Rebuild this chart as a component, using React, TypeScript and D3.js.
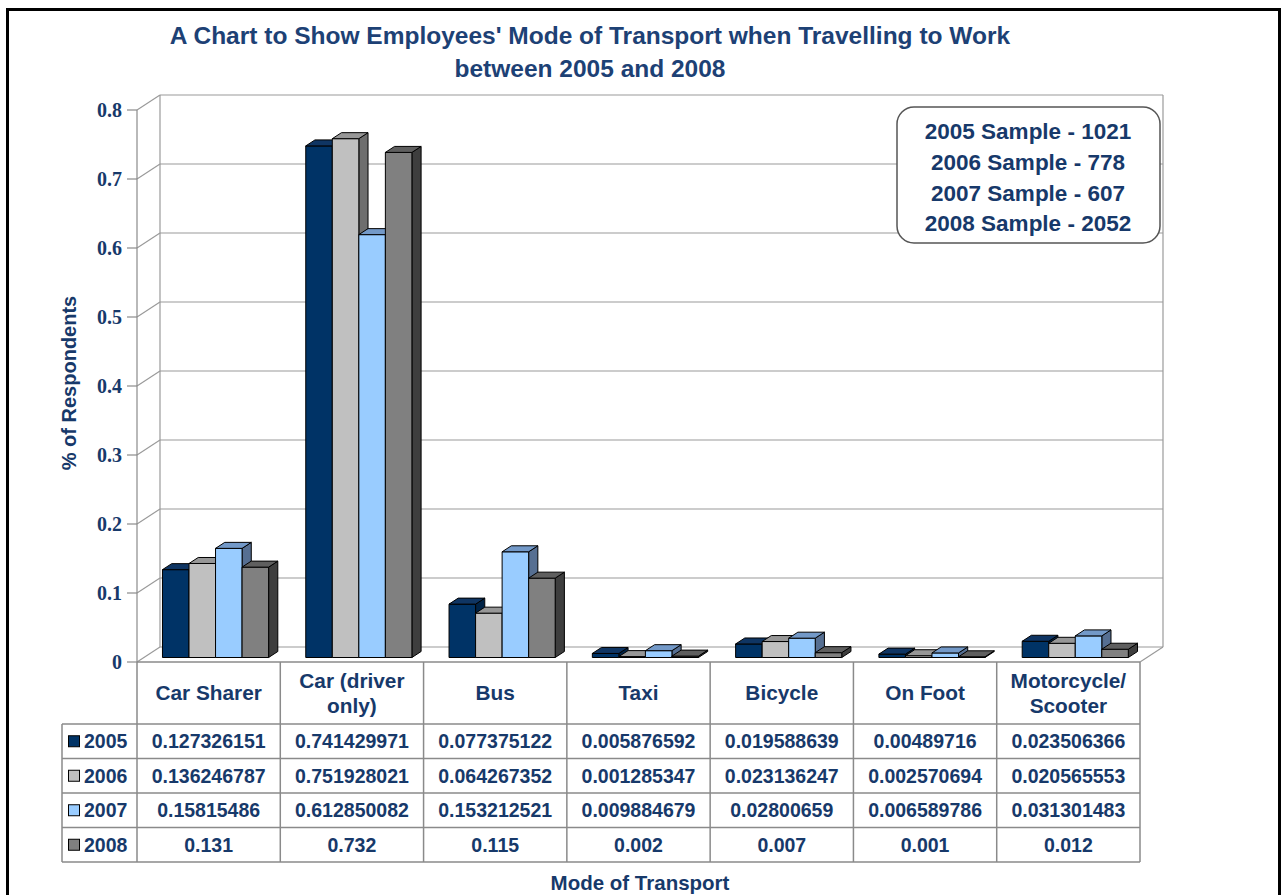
import React, { useEffect, useRef } from "react";
import * as d3 from "d3";

// chart data
const categories = ["Car Sharer", "Car (driver only)", "Bus", "Taxi", "Bicycle", "On Foot", "Motorcycle/ Scooter"];
const categoryLines = [["Car Sharer"], ["Car (driver", "only)"], ["Bus"], ["Taxi"], ["Bicycle"], ["On Foot"], ["Motorcycle/", "Scooter"]];
const years = ["2005", "2006", "2007", "2008"];
const values2005 = [0.127326151, 0.741429971, 0.077375122, 0.005876592, 0.019588639, 0.00489716, 0.023506366];
const values2006 = [0.136246787, 0.751928021, 0.064267352, 0.001285347, 0.023136247, 0.002570694, 0.020565553];
const values2007 = [0.15815486, 0.612850082, 0.153212521, 0.009884679, 0.02800659, 0.006589786, 0.031301483];
const values2008 = [0.131, 0.732, 0.115, 0.002, 0.007, 0.001, 0.012];
const yTicks = [0, 0.1, 0.2, 0.3, 0.4, 0.5, 0.6, 0.7, 0.8];
const sampleNotes = ["2005 Sample - 1021", "2006 Sample - 778", "2007 Sample - 607", "2008 Sample - 2052"];

const titleLines = ["A Chart to Show Employees' Mode of Transport when Travelling to Work", "between 2005 and 2008"];

export default function App() {
  const ref = useRef<SVGSVGElement>(null);

  useEffect(() => {
    const svg = d3.select(ref.current);
    svg.selectAll("*").remove();

    const series = [values2005, values2006, values2007, values2008];
    const colors = [
      { front: "#003366", top: "#0f3563", side: "#002347" },
      { front: "#c0c0c0", top: "#979797", side: "#6e6e6e" },
      { front: "#99ccff", top: "#7399c8", side: "#566f92" },
      { front: "#808080", top: "#5f5f5f", side: "#3e3e3e" },
    ];
    const textColor = "#17396a";
    const sans = "'Liberation Sans', Arial, sans-serif";
    const serif = "'Liberation Serif', 'Times New Roman', serif";

    // plot geometry (front plane) and 3D depth offset
    const left = 137, right = 1140, bottom = 662, top = 110;
    const depthX = 23, depthY = 15;
    const z0 = 0.3, z1 = 0.7;

    const x0 = d3.scaleBand().domain(categories).range([left, right]);
    const x1 = d3.scaleBand().domain(years).range([0, x0.bandwidth()]).paddingInner(0).paddingOuter(0.7);
    const y = d3.scaleLinear().domain([0, 0.8]).range([bottom, top]);

    const P = (x: number, yy: number, z: number) => [x + z * depthX, yy - z * depthY];

    // outer frame
    svg.append("rect")
      .attr("x", 7.5).attr("y", 9.5).attr("width", 1272).attr("height", 900)
      .attr("fill", "white").attr("stroke", "#000").attr("stroke-width", 3);

    // title
    svg.append("g").selectAll("text").data(titleLines).enter().append("text")
      .attr("x", 590).attr("y", (d, i) => 44 + i * 33)
      .attr("text-anchor", "middle")
      .style("font-family", sans).style("font-weight", "bold").style("font-size", "24.5px")
      .style("fill", "#1d4175")
      .text((d) => d);

    const walls = svg.append("g").attr("stroke", "#9a9a9a").attr("stroke-width", 1.2).attr("fill", "none");

    // back wall gridlines + left wall diagonals
    yTicks.forEach((t) => {
      const [bx, by] = P(left, y(t), 1);
      const [rx] = P(right, y(t), 1);
      walls.append("line").attr("x1", bx).attr("y1", by).attr("x2", rx).attr("y2", by);
      walls.append("line").attr("x1", left).attr("y1", y(t)).attr("x2", bx).attr("y2", by);
    });
    // wall edges
    const [blx, bly] = P(left, y(0), 1);
    const [, tly] = P(left, y(0.8), 1);
    const [brx] = P(right, y(0), 1);
    walls.append("line").attr("x1", blx).attr("y1", tly).attr("x2", blx).attr("y2", bly);
    walls.append("line").attr("x1", brx).attr("y1", tly).attr("x2", brx).attr("y2", bly);
    walls.append("line").attr("x1", right).attr("y1", bottom).attr("x2", brx).attr("y2", bly);
    walls.append("line").attr("x1", left).attr("y1", top).attr("x2", left).attr("y2", bottom).attr("stroke", "#8a8a8a");

    // y ticks and labels
    const yAxis = svg.append("g");
    yTicks.forEach((t) => {
      yAxis.append("line").attr("x1", 127).attr("x2", left).attr("y1", y(t)).attr("y2", y(t))
        .attr("stroke", "#8a8a8a").attr("stroke-width", 1.2);
      yAxis.append("text").attr("x", 122).attr("y", y(t) + 7)
        .attr("text-anchor", "end")
        .style("font-family", serif).style("font-weight", "bold").style("font-size", "20px")
        .style("fill", textColor)
        .text(t === 0 ? "0" : d3.format(".1f")(t));
    });

    svg.append("text")
      .attr("transform", `translate(76,383) rotate(-90)`)
      .attr("text-anchor", "middle")
      .style("font-family", sans).style("font-weight", "bold").style("font-size", "20px")
      .style("fill", textColor)
      .text("% of Respondents");

    // 3D bars
    const bars = svg.append("g").attr("stroke", "#000").attr("stroke-width", 1).attr("stroke-linejoin", "round");
    categories.forEach((c, ci) => {
      years.forEach((yr, si) => {
        const v = series[si][ci];
        const xl = (x0(c) as number) + (x1(yr) as number);
        const xr = xl + x1.bandwidth();
        const col = colors[si];
        const ftl = P(xl, y(v), z0), ftr = P(xr, y(v), z0), fbr = P(xr, y(0), z0), fbl = P(xl, y(0), z0);
        const btl = P(xl, y(v), z1), btr = P(xr, y(v), z1), bbr = P(xr, y(0), z1);
        bars.append("polygon").attr("points", [ftr, btr, bbr, fbr].join(" ")).attr("fill", col.side);
        bars.append("polygon").attr("points", [ftl, ftr, fbr, fbl].join(" ")).attr("fill", col.front);
        bars.append("polygon").attr("points", [ftl, btl, btr, ftr].join(" ")).attr("fill", col.top);
      });
    });

    // sample size note
    const note = svg.append("g");
    note.append("rect").attr("x", 897).attr("y", 107).attr("width", 263).attr("height", 136).attr("rx", 17)
      .attr("fill", "white").attr("stroke", "#555").attr("stroke-width", 1.5);
    note.selectAll("text").data(sampleNotes).enter().append("text")
      .attr("x", 1028).attr("y", (d, i) => 139 + i * 30.8)
      .attr("text-anchor", "middle")
      .style("font-family", sans).style("font-weight", "bold").style("font-size", "22.5px")
      .style("fill", textColor)
      .text((d) => d);

    // data table
    const rowTop = 724, rowH = 34.5, keyLeft = 62;
    const tableBottom = rowTop + rowH * years.length;
    const grid = svg.append("g").attr("stroke", "#8a8a8a").attr("stroke-width", 1.5);
    grid.append("line").attr("x1", left).attr("x2", right).attr("y1", bottom).attr("y2", bottom);
    [...categories.map((c) => x0(c) as number), right].forEach((xx) => {
      grid.append("line").attr("x1", xx).attr("x2", xx).attr("y1", bottom).attr("y2", tableBottom);
    });
    years.forEach((yr, i) => {
      grid.append("line").attr("x1", keyLeft).attr("x2", right).attr("y1", rowTop + i * rowH).attr("y2", rowTop + i * rowH);
    });
    grid.append("line").attr("x1", keyLeft).attr("x2", right).attr("y1", tableBottom).attr("y2", tableBottom);
    grid.append("line").attr("x1", keyLeft).attr("x2", keyLeft).attr("y1", rowTop).attr("y2", tableBottom);

    const tableText = svg.append("g")
      .style("font-family", sans).style("font-weight", "bold").style("font-size", "19.5px")
      .style("fill", textColor).attr("text-anchor", "middle");

    categories.forEach((c, ci) => {
      const cx = (x0(c) as number) + x0.bandwidth() / 2;
      const lines = categoryLines[ci];
      lines.forEach((ln, li) => {
        tableText.append("text").attr("x", cx)
          .attr("y", 700 + (li - (lines.length - 1) / 2) * 25)
          .style("font-size", "20.8px")
          .text(ln);
      });
      years.forEach((yr, si) => {
        tableText.append("text").attr("x", cx).attr("y", rowTop + si * rowH + rowH / 2 + 7)
          .text(String(series[si][ci]));
      });
    });

    years.forEach((yr, si) => {
      const cy = rowTop + si * rowH + rowH / 2;
      svg.append("rect").attr("x", 68.5).attr("y", cy - 5.5).attr("width", 11).attr("height", 11)
        .attr("fill", colors[si].front).attr("stroke", "#000").attr("stroke-width", 1);
      tableText.append("text").attr("x", 84).attr("y", cy + 7).attr("text-anchor", "start")
        .style("font-size", "19.5px")
        .text(yr);
    });

    svg.append("text")
      .attr("x", 640).attr("y", 890)
      .attr("text-anchor", "middle")
      .style("font-family", sans).style("font-weight", "bold").style("font-size", "20.5px")
      .style("fill", textColor)
      .text("Mode of Transport");
  }, []);

  return (
    <svg ref={ref} width={1285} height={895}
      style={{ position: "absolute", left: 0, top: 0, display: "block" }} />
  );
}
